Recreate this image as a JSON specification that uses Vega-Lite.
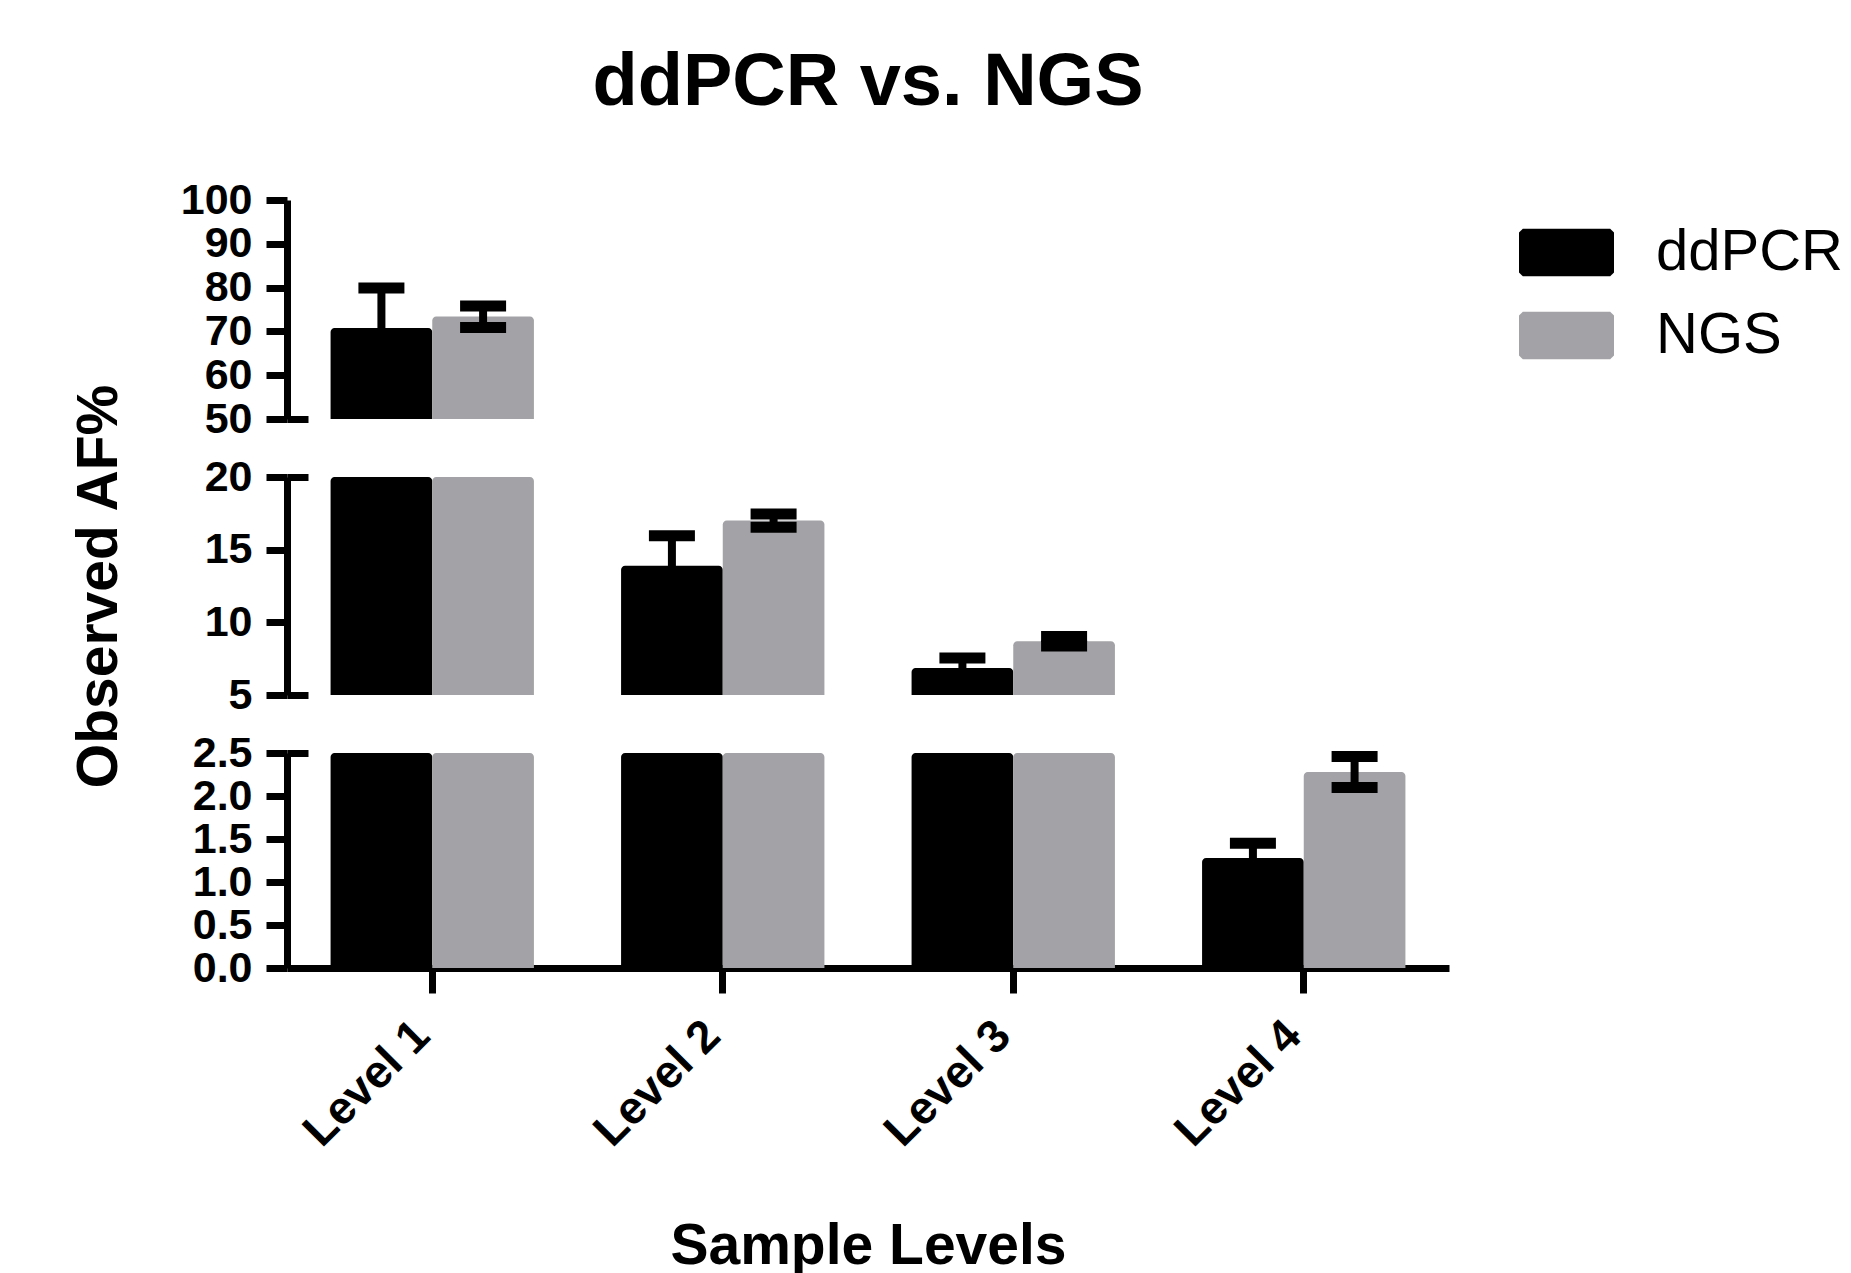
{
  "$schema": "https://vega.github.io/schema/vega-lite/v6.json",
  "padding": {"left": 70, "top": 46, "right": 0, "bottom": 0},
  "bounds": "flush",
  "data": {
    "values": [
      {"level": "Level 1", "method": "ddPCR", "value": 70.8, "lo": 61.7, "hi": 79.9},
      {"level": "Level 1", "method": "NGS", "value": 73.4, "lo": 70.9, "hi": 75.8},
      {"level": "Level 2", "method": "ddPCR", "value": 13.9, "lo": 11.85, "hi": 15.95},
      {"level": "Level 2", "method": "NGS", "value": 17.0, "lo": 16.55, "hi": 17.45},
      {"level": "Level 3", "method": "ddPCR", "value": 6.85, "lo": 6.15, "hi": 7.55},
      {"level": "Level 3", "method": "NGS", "value": 8.7, "lo": 8.37, "hi": 9.03},
      {"level": "Level 4", "method": "ddPCR", "value": 1.28, "lo": 1.11, "hi": 1.45},
      {"level": "Level 4", "method": "NGS", "value": 2.28, "lo": 2.1, "hi": 2.46}
    ]
  },
  "spacing": 58,
  "resolve": {"scale": {"y": "independent", "color": "independent"}, "legend": {"color": "independent"}},
  "vconcat": [
    {
      "width": 1162,
      "height": 219,
      "title": {"text": "ddPCR vs. NGS", "fontSize": 74, "fontWeight": "bold", "font": "Liberation Sans", "color": "black", "anchor": "middle", "frame": "group", "baseline": "alphabetic", "offset": 0},
      "resolve": {"axis": {"y": "independent"}},
      "encoding": {
        "x": {"field": "level", "type": "nominal", "axis": null, "scale": {"paddingInner": 0.3, "paddingOuter": 0.15}},
        "xOffset": {"field": "method", "type": "nominal", "sort": ["ddPCR", "NGS"], "scale": {"paddingInner": 0, "paddingOuter": 0}}
      },
      "layer": [
        {
          "mark": {"type": "bar", "cornerRadiusTopLeft": 4, "cornerRadiusTopRight": 4},
          "encoding": {
            "y": {"field": "value", "type": "quantitative", "scale": {"domain": [50, 100], "zero": false, "nice": false, "clamp": true}, "axis": {"title": null, "values": [50, 60, 70, 80, 90, 100]}},
            "y2": {"datum": 0},
            "color": {"field": "method", "type": "nominal", "scale": {"domain": ["ddPCR", "NGS"], "range": ["#000000", "#a3a3a7"]}, "legend": {"title": null, "orient": "right", "offset": 65, "padding": 5}}
          }
        },
        {
          "mark": {"type": "rule", "strokeWidth": 8, "color": "black"},
          "encoding": {"y": {"field": "lo", "type": "quantitative", "axis": null}, "y2": {"field": "hi"}}
        },
        {
          "transform": [{"filter": "datum.hi >= 50 && datum.hi <= 100"}],
          "mark": {"type": "tick", "thickness": 11, "size": 46, "color": "black", "opacity": 1},
          "encoding": {"y": {"field": "hi", "type": "quantitative", "axis": {"title": null, "orient": "left", "offset": -21, "values": [50], "labels": false, "domain": false, "tickSize": 21}}}
        },
        {
          "transform": [{"filter": "datum.lo >= 50 && datum.lo <= 100"}],
          "mark": {"type": "tick", "thickness": 11, "size": 46, "color": "black", "opacity": 1},
          "encoding": {"y": {"field": "lo", "type": "quantitative", "axis": null}}
        }
      ]
    },
    {
      "width": 1162,
      "height": 218,
      "resolve": {"axis": {"y": "independent"}},
      "encoding": {
        "x": {"field": "level", "type": "nominal", "axis": null, "scale": {"paddingInner": 0.3, "paddingOuter": 0.15}},
        "xOffset": {"field": "method", "type": "nominal", "sort": ["ddPCR", "NGS"], "scale": {"paddingInner": 0, "paddingOuter": 0}}
      },
      "layer": [
        {
          "mark": {"type": "bar", "cornerRadiusTopLeft": 4, "cornerRadiusTopRight": 4},
          "encoding": {
            "y": {"field": "value", "type": "quantitative", "scale": {"domain": [5, 20], "zero": false, "nice": false, "clamp": true}, "axis": {"title": "Observed AF%", "values": [5, 10, 15, 20], "titlePadding": 76}},
            "y2": {"datum": 0},
            "color": {"field": "method", "type": "nominal", "scale": {"domain": ["ddPCR", "NGS"], "range": ["#000000", "#a3a3a7"]}, "legend": null}
          }
        },
        {
          "mark": {"type": "rule", "strokeWidth": 8, "color": "black"},
          "encoding": {"y": {"field": "lo", "type": "quantitative", "axis": null}, "y2": {"field": "hi"}}
        },
        {
          "transform": [{"filter": "datum.hi >= 5 && datum.hi <= 20"}],
          "mark": {"type": "tick", "thickness": 11, "size": 46, "color": "black", "opacity": 1},
          "encoding": {"y": {"field": "hi", "type": "quantitative", "axis": {"title": null, "orient": "left", "offset": -21, "values": [5, 20], "labels": false, "domain": false, "tickSize": 21}}}
        },
        {
          "transform": [{"filter": "datum.lo >= 5 && datum.lo <= 20"}],
          "mark": {"type": "tick", "thickness": 11, "size": 46, "color": "black", "opacity": 1},
          "encoding": {"y": {"field": "lo", "type": "quantitative", "axis": null}}
        }
      ]
    },
    {
      "width": 1162,
      "height": 215,
      "resolve": {"axis": {"y": "independent"}},
      "encoding": {
        "x": {"field": "level", "type": "nominal", "scale": {"paddingInner": 0.3, "paddingOuter": 0.15}, "axis": {"title": "Sample Levels", "labelAngle": -45, "labelAlign": "right", "labelBaseline": "middle", "labelOffset": -10, "labelPadding": 35, "labelFontSize": 46, "titlePadding": 64}},
        "xOffset": {"field": "method", "type": "nominal", "sort": ["ddPCR", "NGS"], "scale": {"paddingInner": 0, "paddingOuter": 0}}
      },
      "layer": [
        {
          "mark": {"type": "bar", "cornerRadiusTopLeft": 4, "cornerRadiusTopRight": 4},
          "encoding": {
            "y": {"field": "value", "type": "quantitative", "scale": {"domain": [0, 2.5], "nice": false, "clamp": true}, "axis": {"title": null, "values": [0, 0.5, 1, 1.5, 2, 2.5], "format": ".1f"}},
            "y2": {"datum": 0},
            "color": {"field": "method", "type": "nominal", "scale": {"domain": ["ddPCR", "NGS"], "range": ["#000000", "#a3a3a7"]}, "legend": null}
          }
        },
        {
          "mark": {"type": "rule", "strokeWidth": 8, "color": "black"},
          "encoding": {"y": {"field": "lo", "type": "quantitative", "axis": null}, "y2": {"field": "hi"}}
        },
        {
          "transform": [{"filter": "datum.hi >= 0 && datum.hi <= 2.5"}],
          "mark": {"type": "tick", "thickness": 11, "size": 46, "color": "black", "opacity": 1},
          "encoding": {"y": {"field": "hi", "type": "quantitative", "axis": {"title": null, "orient": "left", "offset": -21, "values": [2.5], "labels": false, "domain": false, "tickSize": 21}}}
        },
        {
          "transform": [{"filter": "datum.lo >= 0 && datum.lo <= 2.5"}],
          "mark": {"type": "tick", "thickness": 11, "size": 46, "color": "black", "opacity": 1},
          "encoding": {"y": {"field": "lo", "type": "quantitative", "axis": null}}
        }
      ]
    }
  ],
  "config": {
    "view": {"stroke": null},
    "font": "Liberation Sans",
    "axis": {
      "domainColor": "black", "domainWidth": 7, "tickColor": "black", "tickWidth": 7,
      "labelColor": "black", "labelFont": "Liberation Sans", "labelFontSize": 43, "labelFontWeight": "bold",
      "titleColor": "black", "titleFont": "Liberation Sans", "titleFontSize": 57, "titleFontWeight": "bold",
      "grid": false, "labelOverlap": false, "labelFlush": false
    },
    "axisY": {"tickSize": 21, "labelPadding": 14},
    "axisX": {"tickSize": 25},
    "legend": {
      "symbolType": "M-0.92,-0.5H0.92L1,-0.42V0.42L0.92,0.5H-0.92L-1,0.42V-0.42Z",
      "symbolSize": 9025,
      "symbolStrokeWidth": 0,
      "labelFont": "Liberation Sans",
      "labelFontSize": 58,
      "labelColor": "black",
      "labelOffset": 42,
      "labelLimit": 400,
      "rowPadding": 6
    }
  }
}
